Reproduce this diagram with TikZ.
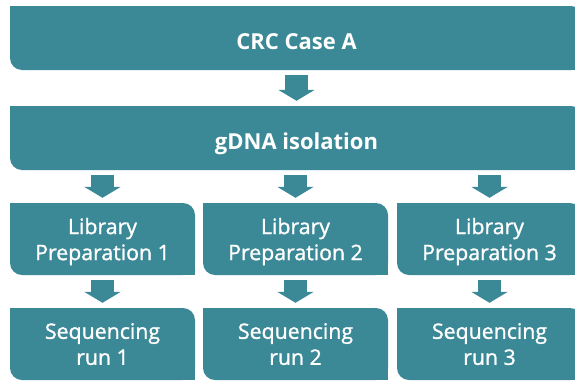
\documentclass[tikz,border=0pt]{standalone}
\usepackage{fontspec}
\setmainfont{Open Sans}
\newfontfamily\medfont[FakeBold=1.2]{Open Sans}
\usetikzlibrary{arrows.meta}
\definecolor{boxteal}{RGB}{59,137,150}
\tikzset{
  flowbox/.style={fill=boxteal, rounded corners=12pt, inner sep=0pt, text=white, align=center},
  bigbox/.style={flowbox, minimum width=573pt, minimum height=64pt, text height=23pt, text depth=0pt,
    font=\fontsize{22}{26}\selectfont\bfseries},
  smallbox/.style={flowbox, minimum width=185pt, minimum height=72pt, text depth=0pt,
    font=\medfont\fontsize{21.3}{26}\selectfont},
  fatarrow/.style={draw=boxteal, line width=23pt, line cap=butt, shorten <=5pt, shorten >=5pt,
    -{Triangle[width=36pt, length=11pt]}},
}
\begin{document}
\begin{tikzpicture}[x=1pt,y=-1pt]
\useasboundingbox (0,0) rectangle (575,381);
\clip (0,0) rectangle (575,381);
\node[bigbox] (crc) at (296.5,38) {CRC Case A};
\node[bigbox] (gdna) at (296.5,138) {gDNA isolation};
\node[smallbox] (lib1) at (102.5,239) {Library\\Preparation 1};
\node[smallbox] (lib2) at (295.5,239) {Library\\Preparation 2};
\node[smallbox] (lib3) at (489.5,239) {Library\\Preparation 3};
\node[smallbox] (seq1) at (102.5,344) {Sequencing\\run 1};
\node[smallbox] (seq2) at (295.5,344) {Sequencing\\run 2};
\node[smallbox] (seq3) at (489.5,344) {Sequencing\\run 3};
\foreach \n in {crc,gdna,lib1,lib2,lib3,seq1,seq2,seq3}{
  \fill[boxteal] (\n.north west) rectangle ++(14pt,-14pt);
  \fill[boxteal] (\n.south east) rectangle ++(-14pt,14pt);
}
\draw[fatarrow] (crc.south) -- (gdna.north);
\draw[fatarrow] (gdna.south -| lib1.north) -- (lib1.north);
\draw[fatarrow] (gdna.south -| lib2.north) -- (lib2.north);
\draw[fatarrow] (gdna.south -| lib3.north) -- (lib3.north);
\draw[fatarrow] (lib1.south) -- (seq1.north);
\draw[fatarrow] (lib2.south) -- (seq2.north);
\draw[fatarrow] (lib3.south) -- (seq3.north);
\end{tikzpicture}
\end{document}
